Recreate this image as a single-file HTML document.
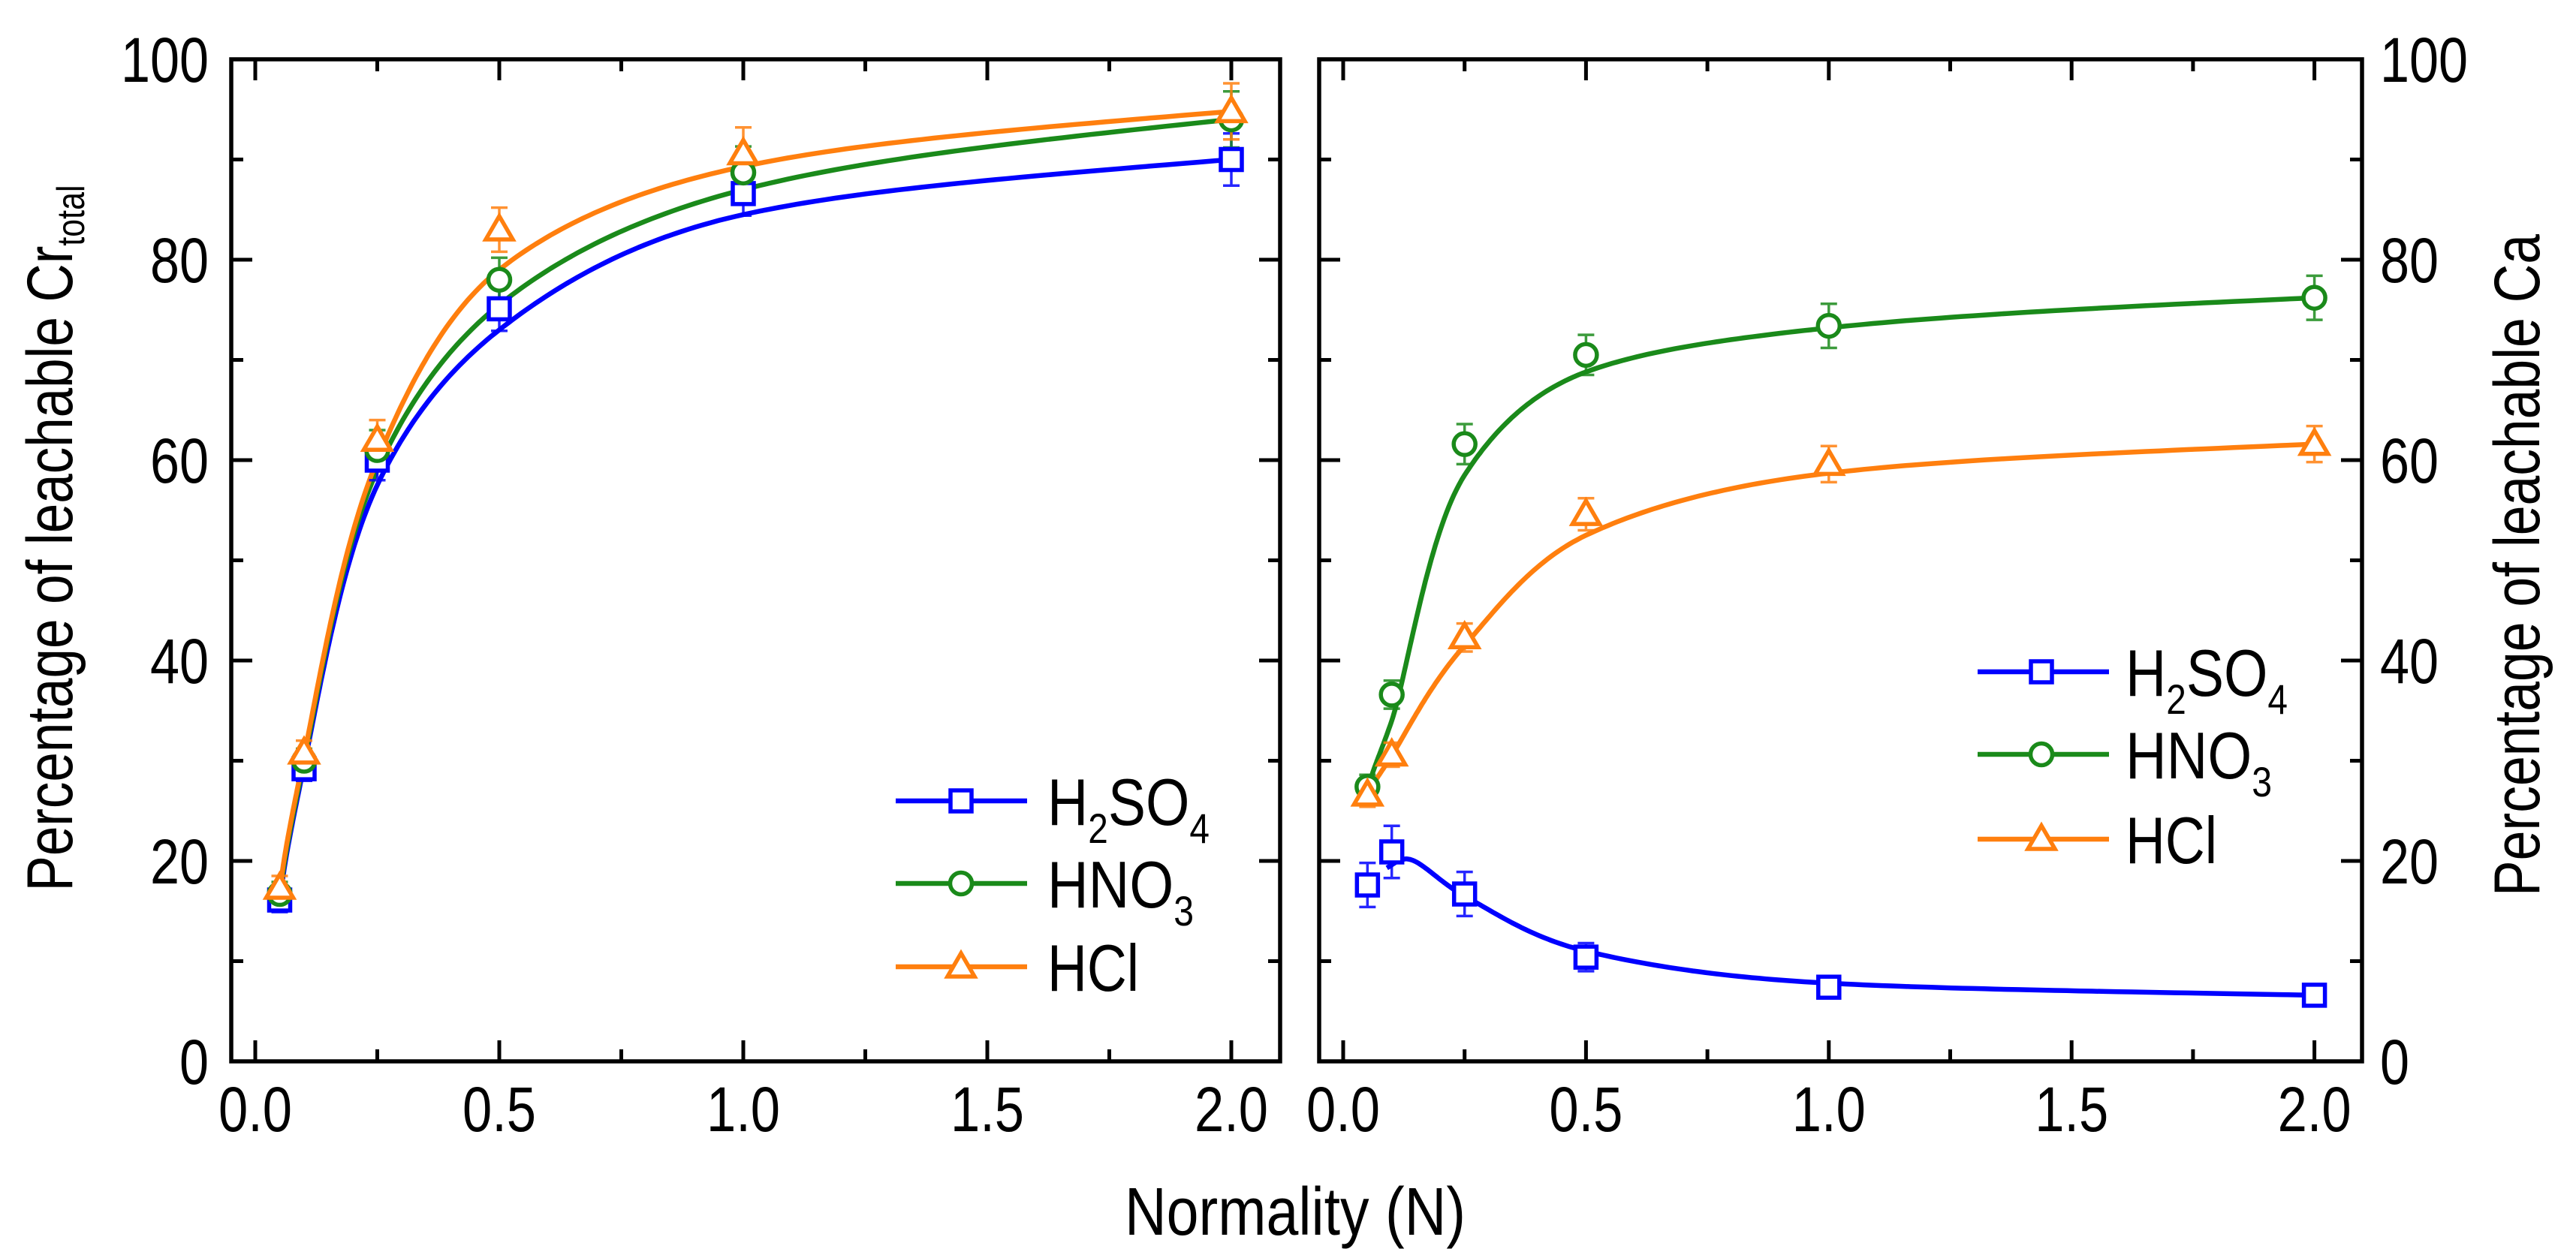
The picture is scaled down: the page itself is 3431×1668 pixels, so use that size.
<!DOCTYPE html>
<html><head><meta charset="utf-8"><style>
html,body{margin:0;padding:0;background:#fff;}
svg{display:block;font-family:"Liberation Sans",Arial,sans-serif;}
</style></head><body>
<svg id="chart" width="3431" height="1668" viewBox="0 0 3431 1668" xmlns="http://www.w3.org/2000/svg"></svg>
<script>
// ---- data ----
const xCats = [0.05, 0.1, 0.25, 0.5, 1.0, 2.0];
const seriesNames = ["H2SO4", "HNO3", "HCl"];
// left panel: Cr total
const crH2SO4 = [16.1, 29.2, 60.0, 75.1, 86.6, 90.0];
const crHNO3  = [16.7, 30.0, 61.0, 78.0, 88.7, 94.0];
const crHCl   = [17.3, 30.8, 62.0, 83.0, 90.6, 94.8];
const crErrH2SO4 = [1.2, 1.2, 2.0, 2.2, 2.2, 2.6];
const crErrHNO3  = [1.2, 1.2, 2.0, 2.2, 2.6, 2.8];
const crErrHCl   = [1.2, 1.2, 2.0, 2.2, 2.6, 2.8];
const crFitX = [0.05, 0.1, 0.25, 0.5, 1.0, 2.0];
const crFitH2SO4 = [16.0, 29.5, 57.5, 73.0, 84.5, 90.0];
const crFitHNO3  = [16.5, 30.0, 59.0, 75.5, 87.0, 94.0];
const crFitHCl   = [17.0, 30.5, 60.0, 79.0, 89.3, 94.8];
// right panel: Ca
const caH2SO4 = [17.6, 20.9, 16.7, 10.4, 7.4, 6.6];
const caHNO3  = [27.4, 36.6, 61.6, 70.5, 73.4, 76.2];
const caHCl   = [26.6, 30.6, 42.3, 54.6, 59.6, 61.6];
const caErrH2SO4 = [2.2, 2.6, 2.2, 1.4, 0.6, 0.5];
const caErrHNO3  = [1.2, 1.4, 2.0, 2.0, 2.2, 2.2];
const caErrHCl   = [1.2, 1.2, 1.4, 1.6, 1.8, 1.8];
const caFitXH2SO4 = [0.09, 0.13, 0.25, 0.5, 1.0, 2.0];
const caFitH2SO4  = [19.3, 20.2, 16.5, 11.0, 7.8, 6.6];
const caFitX = [0.05, 0.1, 0.25, 0.5, 1.0, 2.0];
const caFitHNO3 = [27.0, 34.0, 58.5, 68.8, 73.2, 76.2];
const caFitHCl  = [26.5, 30.5, 41.5, 52.5, 58.7, 61.6];
const xTickLabels = ["0.0", "0.5", "1.0", "1.5", "2.0"];
const xTickValues = [0, 0.5, 1.0, 1.5, 2.0];
const yTickLabels = ["0", "20", "40", "60", "80", "100"];
const yTickValues = [0, 20, 40, 60, 80, 100];

const NS = "http://www.w3.org/2000/svg";
const svg = document.getElementById("chart");
const COLORS = ["#0000ff", "#1a8a1a", "#ff7f0e"];
function el(tag, attrs, parent) {
  const e = document.createElementNS(NS, tag);
  for (const k in attrs) e.setAttribute(k, attrs[k]);
  (parent || svg).appendChild(e);
  return e;
}
const Y0 = 1414, Y100 = 79;
const py = v => Y0 - (v / 100) * (Y0 - Y100);

// monotone cubic interpolation in log(x) space, sampled densely
function smoothPath(xs, ys, px) {
  const n = xs.length, U = xs.map(Math.log);
  const d = [], m = [];
  for (let i = 0; i < n - 1; i++) d.push((ys[i+1]-ys[i])/(U[i+1]-U[i]));
  m[0] = d[0]; m[n-1] = d[n-2];
  for (let i = 1; i < n - 1; i++) {
    if (d[i-1]*d[i] <= 0) { m[i] = 0; continue; }
    const h0 = U[i]-U[i-1], h1 = U[i+1]-U[i];
    const w1 = 2*h1 + h0, w2 = h1 + 2*h0;
    m[i] = (w1 + w2) / (w1/d[i-1] + w2/d[i]);
  }
  const pts = [];
  for (let i = 0; i < n - 1; i++) {
    const h = U[i+1]-U[i];
    const steps = 40;
    for (let s = (i === 0 ? 0 : 1); s <= steps; s++) {
      const t = s/steps, t2 = t*t, t3 = t2*t;
      const y = (2*t3-3*t2+1)*ys[i] + (t3-2*t2+t)*h*m[i] + (-2*t3+3*t2)*ys[i+1] + (t3-t2)*h*m[i+1];
      const x = Math.exp(U[i] + t*h);
      pts.push(px(x).toFixed(1) + "," + py(y).toFixed(1));
    }
  }
  return "M" + pts.join(" L");
}

function txt(s, x, y, size, anchor, len, parent) {
  const t = el("text", {x: x, y: y, "font-size": size, "text-anchor": anchor || "middle", fill: "#000"}, parent);
  if (len) { t.setAttribute("textLength", len); t.setAttribute("lengthAdjust", "spacingAndGlyphs"); }
  t.textContent = s;
  return t;
}

function marker(kind, x, y, color, g) {
  let m;
  if (kind === 0) m = el("rect", {x: x-14, y: y-14, width: 28, height: 28, fill: "#fff", stroke: color, "stroke-width": 5.5}, g);
  else if (kind === 1) m = el("circle", {cx: x, cy: y, r: 14.5, fill: "#fff", stroke: color, "stroke-width": 5.5}, g);
  else m = el("polygon", {points: `${x},${y-18} ${x+18},${y+13} ${x-18},${y+13}`, fill: "#fff", stroke: color, "stroke-width": 5.5}, g);
  return m;
}

function panel(name, left, right, x0px, unit, series, errs, fits, yLabelSide) {
  const px = v => x0px + v * unit;
  const g = el("g", {});
  
  
  for (let i = 0; i <= 8; i++) {
    const v = i * 0.25, x = px(v), L = i % 2 === 0 ? 28 : 16;
    el("line", {x1: x, y1: Y0, x2: x, y2: Y0 - L, stroke: "#000", "stroke-width": 5}, g);
    el("line", {x1: x, y1: Y100, x2: x, y2: Y100 + L, stroke: "#000", "stroke-width": 5}, g);
  }
  for (let i = 0; i <= 10; i++) {
    const y = py(i * 10), L = i % 2 === 0 ? 28 : 16;
    el("line", {x1: left, y1: y, x2: left + L, y2: y, stroke: "#000", "stroke-width": 5}, g);
    el("line", {x1: right, y1: y, x2: right - L, y2: y, stroke: "#000", "stroke-width": 5}, g);
  }
  xTickValues.forEach((v, i) => {
    const t = txt(xTickLabels[i], px(v), 1507, 84, "middle", 98, g);
    
    
  });
  yTickValues.forEach((v, i) => {
    const s = yTickLabels[i], len = s.length * 39;
    const t = yLabelSide === "left" ? txt(s, 278, py(v) + 30, 84, "end", len, g)
                                    : txt(s, 3170, py(v) + 30, 84, "start", len, g);
    
    
  });
  fits.forEach((f, si) => {
    const p = el("path", {d: smoothPath(f[0], f[1], px), fill: "none", stroke: COLORS[si], "stroke-width": 6.5, "stroke-linejoin": "round"}, g);
    
    
  });
  series.forEach((ys, si) => {
    ys.forEach((v, i) => {
      const x = px(xCats[i]), e = errs[si][i];
      const eb = el("path", {d: `M${x},${py(v+e)} V${py(v-e)} M${x-11},${py(v+e)} H${x+11} M${x-11},${py(v-e)} H${x+11}`, stroke: COLORS[si], "stroke-width": 3.5, fill: "none", opacity: 0.85}, g);
      
      
    });
  });
  series.forEach((ys, si) => {
    ys.forEach((v, i) => {
      const m = marker(si, px(xCats[i]), py(v), COLORS[si], g);
      
      
    });
  });
  const fr = el("rect", {x: left, y: Y100, width: right - left, height: Y0 - Y100, fill: "none", stroke: "#000", "stroke-width": 5.5}, g);
  
  
}

panel("left-panel-cr", 308, 1705, 340, 650,
  [crH2SO4, crHNO3, crHCl], [crErrH2SO4, crErrHNO3, crErrHCl],
  [[crFitX, crFitH2SO4], [crFitX, crFitHNO3], [crFitX, crFitHCl]], "left");
panel("right-panel-ca", 1757, 3146, 1789, 646.8,
  [caH2SO4, caHNO3, caHCl], [caErrH2SO4, caErrHNO3, caErrHCl],
  [[caFitXH2SO4, caFitH2SO4], [caFitX, caFitHNO3], [caFitX, caFitHCl]], "right");

function legend(name, lx1, lx2, mx, tx, rows) {
  const g = el("g", {});
  
  
  const labels = [["H", "2", "SO", "4"], ["HNO", "3"], ["HCl"]];
  rows.forEach((y, i) => {
    el("line", {x1: lx1, y1: y, x2: lx2, y2: y, stroke: COLORS[i], "stroke-width": 6.5}, g);
    marker(i, mx, y, COLORS[i], g);
    const t = el("text", {x: tx, y: y + 32, "font-size": 88, fill: "#000"}, g);
    
    
    labels[i].forEach((s, k) => {
      const ts = el("tspan", {}, t);
      if (k % 2 === 1) { ts.setAttribute("font-size", 56); ts.setAttribute("dy", 24); }
      else if (k > 0) ts.setAttribute("dy", -24);
      ts.textContent = s;
    });
    t.setAttribute("textLength", [216, 195, 122][i]);
    t.setAttribute("lengthAdjust", "spacingAndGlyphs");
  });
}
legend("legend-left", 1193, 1368, 1280, 1395, [1067, 1177, 1288]);
legend("legend-right", 2634, 2809, 2719, 2831, [895, 1005, 1118]);

let t = txt("Normality (N)", 1725, 1645, 90, "middle", 454);



const lt = el("text", {x: 0, y: 0, "font-size": 86, "text-anchor": "middle", transform: "translate(96,717) rotate(-90)", fill: "#000"});


const a = el("tspan", {}, lt); a.textContent = "Percentage of leachable Cr";
const b = el("tspan", {"font-size": 52, dy: 16}, lt); b.textContent = "total";
lt.setAttribute("textLength", 941);
lt.setAttribute("lengthAdjust", "spacingAndGlyphs");

const rt = el("text", {x: 0, y: 0, "font-size": 86, "text-anchor": "middle", transform: "translate(3382,753) rotate(-90)", fill: "#000", textLength: 882, lengthAdjust: "spacingAndGlyphs"});
rt.textContent = "Percentage of leachable Ca";


</script>
</body></html>
